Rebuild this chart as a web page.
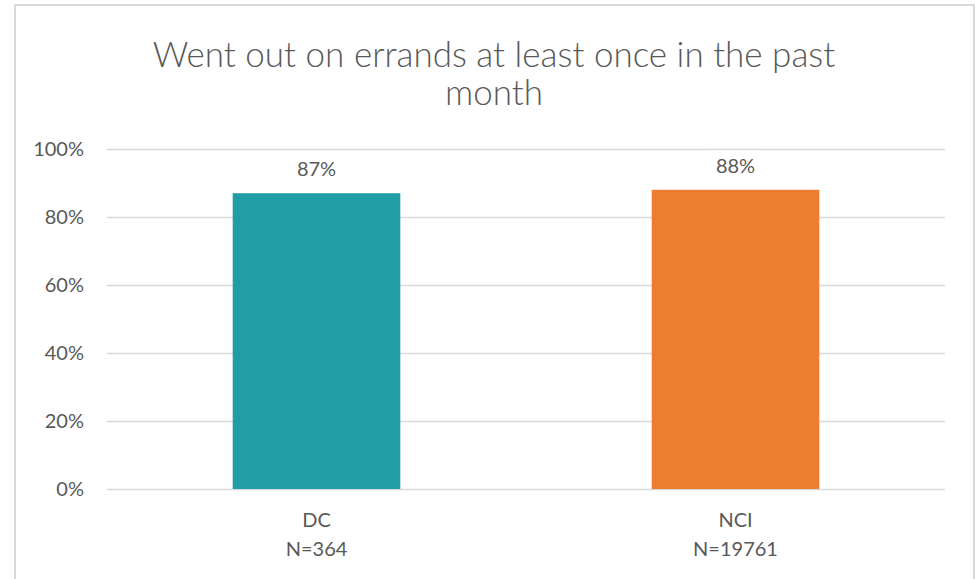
<!DOCTYPE html>
<html>
<head>
<meta charset="utf-8">
<script src="https://cdn.jsdelivr.net/npm/d3@7"></script>
<style>
  html, body { margin: 0; padding: 0; background: #fff; }
  svg { display: block; }
</style>
</head>
<body>
<div id="chart"></div>
<script>
// chart data
const categories = ['DC', 'NCI'];
const sampleSizes = ['N=364', 'N=19761'];
const values = [0.87, 0.88];
const barColors = ['#219DA6', '#ED7D31'];
const yTicks = [0, 0.2, 0.4, 0.6, 0.8, 1.0];
const titleLines = ['Went out on errands at least once in the past', 'month'];

const width = 980;
const height = 579;
const margin = { top: 149, right: 35, bottom: 90, left: 107 };
const textColor = '#595959';
const gridColor = '#D9D9D9';
const fontFamily = 'Lato, "Open Sans", sans-serif';

const svg = d3
  .select('#chart')
  .append('svg')
  .attr('width', width)
  .attr('height', height);

svg.append('rect').attr('width', width).attr('height', height).attr('fill', '#fff');

// chart frame (no bottom edge visible in view)
svg
  .append('path')
  .attr('d', `M15,${height + 5} V5 H974 V${height + 5}`)
  .attr('fill', 'none')
  .attr('stroke', gridColor)
  .attr('stroke-width', 2);

const x = d3
  .scaleBand()
  .domain(categories)
  .range([margin.left, width - margin.right])
  .paddingInner(0.6)
  .paddingOuter(0.3);

const y = d3
  .scaleLinear()
  .domain([0, 1])
  .range([height - margin.bottom, margin.top]);

// title, centred over the whole frame
const title = svg
  .append('text')
  .attr('text-anchor', 'middle')
  .attr('fill', textColor)
  .attr('font-family', fontFamily)
  .attr('font-weight', 300)
  .attr('font-size', 35);
titleLines.forEach((line, i) => {
  title
    .append('tspan')
    .attr('x', 494)
    .attr('y', 67 + i * 38)
    .text(line);
});

// y axis: gridlines + labels
const yAxis = svg
  .append('g')
  .attr('transform', `translate(${margin.left},0)`)
  .call(
    d3
      .axisLeft(y)
      .tickValues(yTicks)
      .tickFormat(d3.format('.0%'))
      .tickSize(-(width - margin.left - margin.right))
      .tickPadding(23)
  );
yAxis.select('.domain').remove();
yAxis.selectAll('.tick line').attr('stroke', gridColor).attr('stroke-width', 1.5);
yAxis
  .selectAll('.tick text')
  .attr('fill', textColor)
  .attr('font-family', fontFamily)
  .attr('font-size', 20);

// bars
svg
  .append('g')
  .selectAll('rect')
  .data(values)
  .join('rect')
  .attr('x', (d, i) => x(categories[i]))
  .attr('y', (d) => y(d))
  .attr('width', x.bandwidth())
  .attr('height', (d) => y(0) - y(d))
  .attr('fill', (d, i) => barColors[i]);

// value labels with white backing (covers gridline)
const fmt = d3.format('.0%');
const labels = svg
  .append('g')
  .selectAll('g')
  .data(values)
  .join('g')
  .attr('transform', (d, i) => `translate(${x(categories[i]) + x.bandwidth() / 2},${y(d) - 24})`);
labels
  .append('rect')
  .attr('x', -29)
  .attr('y', -15)
  .attr('width', 58)
  .attr('height', 30)
  .attr('fill', '#fff');
labels
  .append('text')
  .attr('text-anchor', 'middle')
  .attr('dy', '0.35em')
  .attr('fill', textColor)
  .attr('font-family', fontFamily)
  .attr('font-size', 20)
  .text((d) => fmt(d));

// category labels
const cats = svg
  .append('g')
  .selectAll('text')
  .data(categories)
  .join('text')
  .attr('text-anchor', 'middle')
  .attr('fill', textColor)
  .attr('font-family', fontFamily)
  .attr('font-size', 20);
cats
  .append('tspan')
  .attr('x', (d) => x(d) + x.bandwidth() / 2)
  .attr('y', 527)
  .text((d) => d);
cats
  .append('tspan')
  .attr('x', (d) => x(d) + x.bandwidth() / 2)
  .attr('y', 556)
  .text((d, i) => sampleSizes[i]);
</script>
</body>
</html>
